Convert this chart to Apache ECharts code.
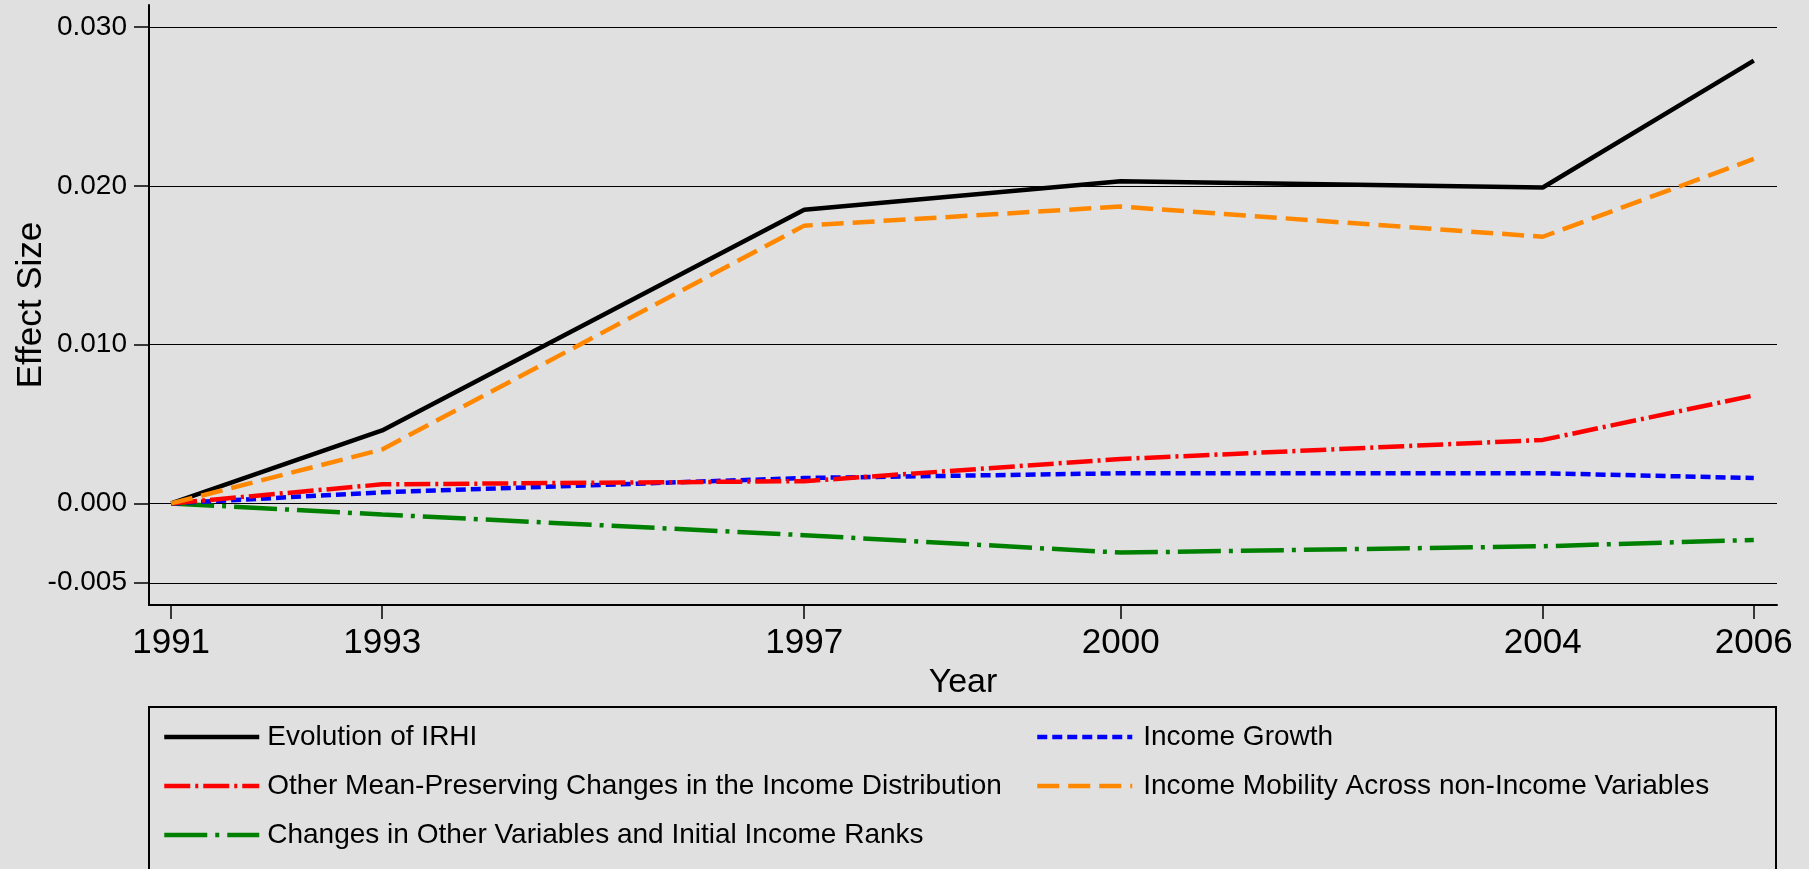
<!DOCTYPE html>
<html>
<head>
<meta charset="utf-8">
<script src="https://cdn.jsdelivr.net/npm/echarts@6/dist/echarts.min.js"></script>
<style>
html,body{margin:0;padding:0;background:#e0e0e0;}
#chart{width:1809px;height:869px;}
</style>
</head>
<body>
<div id="chart"></div>
<script>
var years = [1991, 1993, 1997, 2000, 2004, 2006];
var xTicks = [1991, 1993, 1997, 2000, 2004, 2006];
var yTicks = [-0.005, 0, 0.01, 0.02, 0.03];

var evolutionIRHI   = [0, 0.0046, 0.0185, 0.0203, 0.0199, 0.0279];
var incomeGrowth    = [0, 0.0007, 0.0016, 0.0019, 0.0019, 0.0016];
var otherMeanPres   = [0, 0.0012, 0.0014, 0.0028, 0.0040, 0.0068];
var incomeMobility  = [0, 0.0034, 0.0175, 0.0187, 0.0168, 0.0217];
var otherVariables  = [0, -0.0007, -0.0020, -0.0031, -0.0027, -0.0023];

var names = [
  'Evolution of IRHI',
  'Income Growth',
  'Other Mean-Preserving Changes in the Income Distribution',
  'Income Mobility Across non-Income Variables',
  'Changes in Other Variables and Initial Income Ranks'
];

function pairs(vals){ return years.map(function(y,i){ return [y, vals[i]]; }); }

var FONT = '"Liberation Sans", Arial, sans-serif';

var chart = echarts.init(document.getElementById('chart'), null, {renderer:'canvas'});
function mk(name, vals, color, dash, z){
  return {
    name: name, type: 'line', data: pairs(vals), symbol: 'none', z: z,
    lineStyle: {color: color, width: 4.5, type: dash, cap: 'butt'},
    itemStyle: {color: color},
    emphasis: {disabled: true}, animation: false
  };
}
function legendCommon(padLeft){
  return {
    orient: 'vertical', padding: 0, itemGap: 19, itemHeight: 30, itemWidth: 95,
    textStyle: {fontFamily: FONT, fontSize: 28, color: '#000', lineHeight: 30, padding: [0, 0, 0, padLeft]},
    itemStyle: {opacity: 0, borderWidth: 0},
    lineStyle: {width: 4.5},
    selectedMode: false
  };
}
chart.setOption({
  backgroundColor: '#e0e0e0',
  animation: false,
  grid: {left: 149, right: 32, top: 5, bottom: 264, containLabel: false, outerBoundsMode: 'none'},
  xAxis: {
    type: 'value', min: 1990.79, max: 2006.22,
    name: 'Year', nameLocation: 'middle', nameGap: 61, nameMoveOverlap: false,
    nameTextStyle: {fontFamily: FONT, fontSize: 34, color: '#000'},
    axisLine: {show: true, onZero: false, lineStyle: {color: '#000', width: 2}},
    axisTick: {show: true, length: 14, lineStyle: {color: '#000', width: 1.5}, customValues: xTicks},
    axisLabel: {fontFamily: FONT, fontSize: 35, color: '#000', margin: 21, customValues: xTicks,
      formatter: function(v){ return String(v); }},
    splitLine: {show: false}
  },
  yAxis: {
    type: 'value', min: -0.0064, max: 0.0314,
    name: 'Effect Size', nameLocation: 'middle', nameGap: 100, nameRotate: 90, nameMoveOverlap: false,
    nameTextStyle: {fontFamily: FONT, fontSize: 35, color: '#000'},
    axisLine: {show: true, onZero: false, lineStyle: {color: '#000', width: 2}},
    axisTick: {show: true, length: 15, lineStyle: {color: '#000', width: 1.5}, customValues: yTicks},
    axisLabel: {fontFamily: FONT, fontSize: 28, color: '#000', margin: 22, customValues: yTicks,
      formatter: function(v){ return v.toFixed(3); }},
    splitLine: {show: true, lineStyle: {color: '#000', width: 1}}
  },
  legend: [
    Object.assign({left: 162, top: 722, data: [names[0], names[2], names[4]]}, legendCommon(3)),
    Object.assign({left: 1035, top: 722, data: [names[1], names[3]]}, legendCommon(6))
  ],
  graphic: [{
    type: 'rect', silent: true,
    shape: {x: 149, y: 707, width: 1627, height: 200},
    style: {fill: 'none', stroke: '#000', lineWidth: 2}
  }],
  series: [
    mk(names[4], otherVariables, '#008000', [43, 8, 4, 8], 2),
    mk(names[1], incomeGrowth, '#0000ff', [10, 5], 3),
    mk(names[2], otherMeanPres, '#ff0000', [26, 5, 3, 5], 4),
    mk(names[0], evolutionIRHI, '#000000', 'solid', 5),
    mk(names[3], incomeMobility, '#ff8800', [22, 9], 6)
  ]
});
</script>
</body>
</html>
